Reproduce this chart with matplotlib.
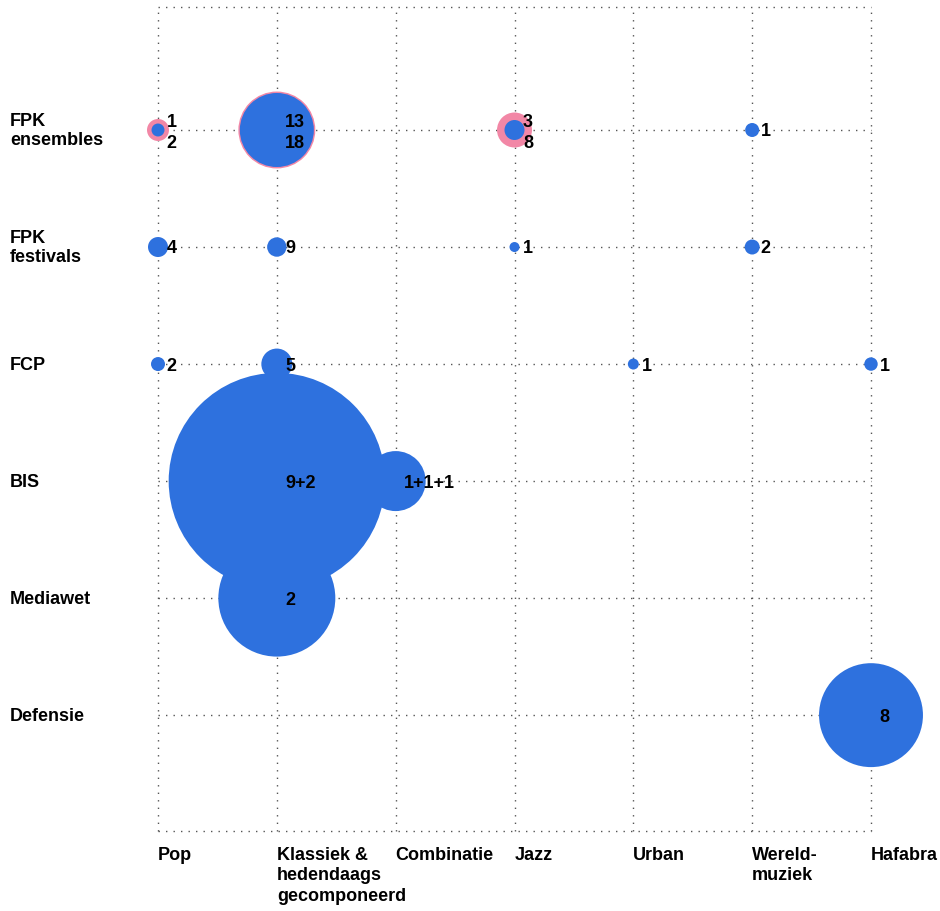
import numpy as np
import matplotlib
matplotlib.use("Agg")
import matplotlib.pyplot as plt
import matplotlib.transforms as mtransforms

plt.rcParams["font.family"] = ["Liberation Sans", "DejaVu Sans"]

# ---- data -----------------------------------------------------------------
rows = ["FPK\nensembles", "FPK\nfestivals", "FCP", "BIS", "Mediawet", "Defensie"]
cols = ["Pop", "Klassiek &\nhedendaags\ngecomponeerd", "Combinatie", "Jazz",
        "Urban", "Wereld-\nmuziek", "Hafabra"]

# blue bubbles: row index, column index, size (area units), label
blue_row = [0, 0, 0, 0, 1, 1, 1, 1, 2, 2, 2, 2, 3, 3, 4, 5]
blue_col = [0, 1, 3, 5, 0, 1, 3, 5, 0, 1, 4, 6, 1, 2, 1, 6]
blue_size = [0.42, 13.7, 1.0, 0.49, 1.0, 0.94, 0.25, 0.56,
             0.49, 2.4, 0.30, 0.45, 117.0, 9.0, 34.2, 27.0]
blue_label = ["1", "13", "3", "1", "4", "9", "1", "2",
              "2", "5", "1", "1", "9+2", "1+1+1", "2", "8"]

# pink outer bubbles (FPK ensembles), label shown below the blue one
pink_row = [0, 0, 0]
pink_col = [0, 1, 3]
pink_size = [1.21, 14.8, 3.06]
pink_label = ["2", "18", "8"]

BLUE = "#2E71DE"
PINK = "#F287A6"
GRID = "#555555"

# ---- figure ---------------------------------------------------------------
W, H = 940, 912
fig = plt.figure(figsize=(W / 100, H / 100), dpi=100)
ax = fig.add_axes([158 / W, 1 - 832 / H, (871 - 158) / W, (832 - 8) / H])
ax.set_xlim(0, len(cols) - 1)
ax.set_ylim(5.99, -1.051)
ax.axis("off")

dots = dict(color=GRID, lw=1.0, ls=(0, (1, 4.4)), zorder=0, clip_on=False)
for i in range(len(cols)):
    ax.axvline(i, **dots)
for j in list(range(len(rows))) + list(ax.get_ylim()):
    ax.axhline(j, **dots)

# size units -> scatter area in pt^2 (radius px = 10 * sqrt(size))
S = (2 * 10 * 0.72) ** 2
ax.scatter(pink_col, pink_row, s=np.array(pink_size) * S, color=PINK,
           lw=0, zorder=2, clip_on=False)
ax.scatter(blue_col, blue_row, s=np.array(blue_size) * S, color=BLUE,
           lw=0, zorder=3, clip_on=False)

pink_cells = set(zip(pink_row, pink_col))
tfs = 13
for r, c, lab in zip(blue_row, blue_col, blue_label):
    dy = 5.8 if (r, c) in pink_cells else -0.7
    ax.annotate(lab, (c, r), xytext=(6.1, dy), textcoords="offset points",
                ha="left", va="center", fontsize=tfs, fontweight="bold",
                color="black", zorder=5)
for r, c, lab in zip(pink_row, pink_col, pink_label):
    ax.annotate(lab, (c, r), xytext=(6.1, -9.0), textcoords="offset points",
                ha="left", va="center", fontsize=tfs, fontweight="bold",
                color="black", zorder=5)

# row labels at the left edge of the figure
ytrans = mtransforms.blended_transform_factory(fig.transFigure, ax.transData)
for j, name in enumerate(rows):
    ax.text(10 / W, j, name, transform=ytrans, ha="left", va="center",
            fontsize=13, fontweight="bold", linespacing=1.2)

# column labels below the grid, one text per line so lines stay separate
xtrans = mtransforms.blended_transform_factory(ax.transData, fig.transFigure)
line_h = 20.5
for i, name in enumerate(cols):
    for k, part in enumerate(name.split("\n")):
        ax.text(i, 1 - (847 + k * line_h) / H, part, transform=xtrans,
                ha="left", va="top", fontsize=13, fontweight="bold")

fig.savefig("out.png", dpi=100)
